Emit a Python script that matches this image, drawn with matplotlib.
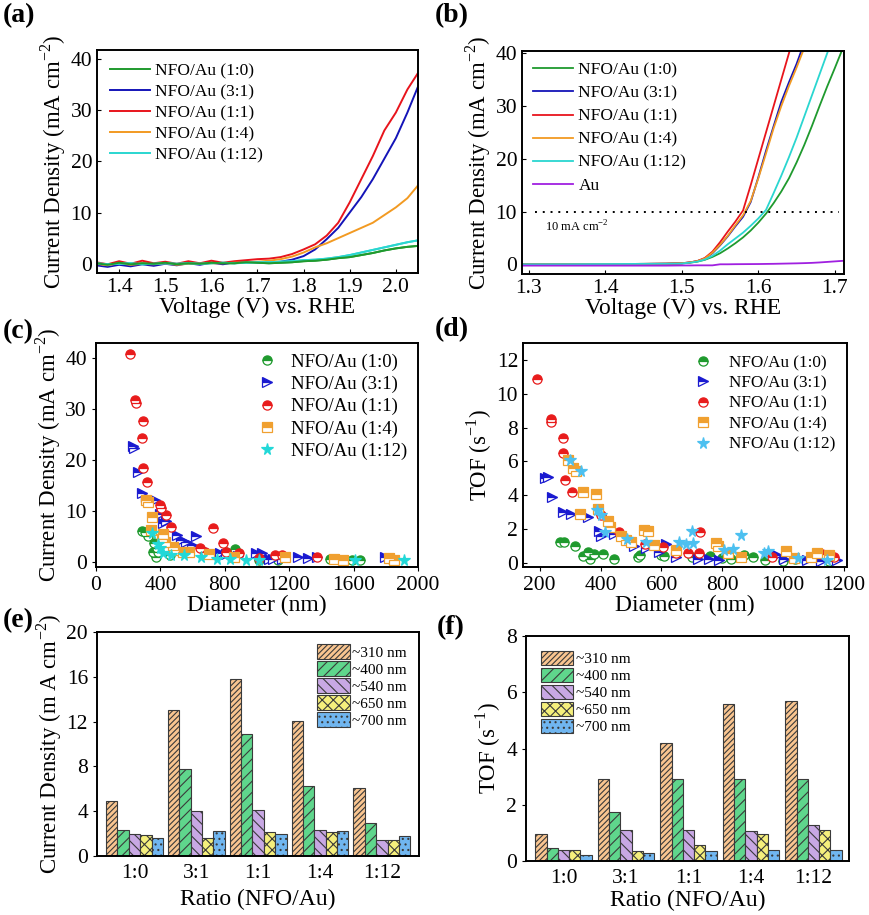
import matplotlib
matplotlib.use("Agg")
import matplotlib.pyplot as plt

plt.rcParams['font.family'] = ['Liberation Serif', 'DejaVu Serif']
plt.rcParams['mathtext.fontset'] = 'custom'
plt.rcParams['mathtext.rm'] = 'Liberation Serif'
plt.rcParams['axes.linewidth'] = 1.4
plt.rcParams['hatch.linewidth'] = 0.8

LABELS = ["NFO/Au (1:0)", "NFO/Au (3:1)", "NFO/Au (1:1)", "NFO/Au (1:4)", "NFO/Au (1:12)"]
LINE_COLORS = ["#1f9a2e", "#1414b8", "#e8141c", "#f29a22", "#2ad6d0"]

# (a) LSV curves, 1:0 / 3:1 / 1:1 / 1:4 / 1:12
V_A = [1.350, 1.375, 1.400, 1.425, 1.450, 1.475, 1.500, 1.525, 1.550, 1.575,
       1.600, 1.625, 1.650, 1.675, 1.700, 1.725, 1.750, 1.775, 1.800, 1.825,
       1.850, 1.875, 1.900, 1.925, 1.950, 1.975, 2.000, 2.025, 2.050]
J_A_10 = [0.1, -0.2, 0.2, -0.1, 0.1, 0.0, 0.2, -0.1, 0.1, 0.0, 0.2, 0.1, 0.1, 0.3, 0.2,
          0.1, 0.2, 0.3, 0.5, 0.6, 0.8, 1.1, 1.3, 1.7, 2.1, 2.6, 3.0, 3.3, 3.5]
J_A_31 = [-0.3, -0.6, -0.2, -0.5, -0.1, -0.4, 0.0, -0.3, 0.1, -0.2, 0.2, -0.1, 0.3, 0.4, 0.3,
          0.2, 0.4, 0.8, 1.5, 2.8, 4.8, 7.0, 10.0, 13.0, 16.5, 20.5, 24.5, 29.5, 35.0]
J_A_11 = [0.3, -0.1, 0.5, 0.0, 0.6, 0.1, 0.4, 0.0, 0.5, 0.1, 0.6, 0.2, 0.5, 0.7, 0.9,
          1.0, 1.3, 1.9, 2.8, 3.8, 5.5, 8.0, 12.0, 16.5, 21.0, 26.0, 29.5, 34.0, 37.5]
J_A_14 = [0.0, -0.3, 0.1, -0.2, 0.0, -0.1, 0.1, -0.2, 0.0, 0.0, 0.1, 0.1, 0.2, 0.3, 0.4,
          0.6, 0.9, 1.4, 2.2, 3.2, 4.0, 5.0, 6.0, 7.0, 8.0, 9.5, 11.0, 12.8, 15.5]
J_A_112 = [0.1, -0.1, 0.0, 0.1, -0.1, 0.0, 0.1, 0.0, 0.1, 0.0, 0.1, 0.2, 0.1, 0.2, 0.3,
           0.3, 0.4, 0.5, 0.7, 0.8, 1.0, 1.3, 1.7, 2.2, 2.7, 3.2, 3.7, 4.2, 4.6]

# (b) iR-corrected LSV curves, plus bare Au
V_B = [1.29, 1.35, 1.40, 1.45, 1.48, 1.50, 1.51, 1.52, 1.53, 1.54, 1.55, 1.56, 1.57, 1.58,
       1.59, 1.60, 1.61, 1.62, 1.63, 1.64, 1.65, 1.66, 1.67, 1.68, 1.69, 1.70, 1.71]
J_B_10 = [0.0, 0.02, 0.05, 0.08, 0.1, 0.15, 0.3, 0.5, 0.85, 1.4, 2.1, 3.0, 4.0, 5.1,
          6.4, 7.9, 9.6, 11.6, 13.8, 16.3, 19.3, 22.6, 26.2, 30.0, 33.7, 37.2, 40.8]
J_B_31 = [0.0, 0.02, 0.05, 0.08, 0.12, 0.2, 0.35, 0.6, 1.1, 2.1, 3.6, 5.3, 7.2, 9.0,
          11.8, 16.5, 21.5, 26.2, 30.8, 34.5, 38.0, 42.0, 46.0, 50.0, 54.0, 58.0, 62.0]
J_B_11 = [0.0, 0.02, 0.05, 0.08, 0.12, 0.2, 0.35, 0.6, 1.2, 2.4, 4.2, 6.2, 8.1, 10.2,
          15.0, 20.0, 25.0, 30.0, 35.0, 40.0, 45.0, 50.0, 55.0, 60.0, 65.0, 70.0, 75.0]
J_B_14 = [0.0, 0.02, 0.05, 0.08, 0.12, 0.2, 0.35, 0.6, 1.1, 2.2, 3.7, 5.4, 7.4, 9.3,
          12.0, 16.3, 21.0, 25.8, 30.0, 33.8, 37.3, 41.0, 45.0, 49.0, 53.0, 57.0, 61.0]
J_B_112 = [0.0, 0.02, 0.05, 0.08, 0.1, 0.15, 0.3, 0.5, 0.9, 1.6, 2.6, 3.8, 4.9, 6.0,
           7.3, 8.7, 10.3, 13.5, 16.8, 20.3, 24.0, 28.0, 32.0, 36.0, 40.0, 44.0, 48.0]
J_B_AU = [-0.25, -0.25, -0.25, -0.25, -0.25, -0.22, -0.22, -0.2, -0.2, -0.2, 0.0, 0.0, 0.02, 0.03,
          0.04, 0.05, 0.07, 0.09, 0.12, 0.15, 0.18, 0.22, 0.27, 0.35, 0.45, 0.55, 0.65]

# (c) current density vs diameter
C_X_10 = [285, 305, 325, 362, 376, 356, 372, 386, 457, 527, 568, 810, 861, 1012, 1133, 1456, 1588, 1638, 1840]
C_Y_10 = [6.1, 5.9, 5.0, 3.7, 2.8, 2.0, 1.0, 2.0, 1.4, 2.0, 2.0, 2.0, 2.5, 0.4, 0.4, 0.6, 0.3, 0.4, 0.3]
C_X_31 = [228, 235, 259, 285, 311, 366, 396, 416, 437, 503, 527, 558, 624, 598, 679, 770, 810, 880,
          992, 1032, 1073, 1100, 1154, 1254, 1315, 1375, 1795]
C_Y_31 = [22.8, 22.3, 17.7, 13.5, 12.8, 12.2, 9.5, 7.7, 8.0, 5.3, 4.3, 4.0, 5.0, 3.4, 2.4, 1.8, 1.5, 1.2,
          1.8, 1.8, 0.5, 0.6, 0.5, 1.0, 0.7, 0.9, 1.0]
C_X_11 = [210, 245, 249, 289, 285, 295, 317, 400, 406, 437, 466, 729, 790, 649, 679, 568, 890, 1012,
          1113, 1153, 1375, 810]
C_Y_11 = [40.9, 31.9, 31.3, 27.7, 24.4, 18.5, 15.7, 11.2, 10.5, 9.3, 6.9, 6.6, 3.7, 2.7, 2.0, 2.0, 1.7, 0.7,
          1.4, 1.4, 0.9, 2.0]
C_X_14 = [309, 325, 350, 342, 416, 410, 426, 477, 487, 538, 578, 700, 860, 1173, 1477, 1537, 1820, 1850]
C_Y_14 = [12.2, 11.8, 8.9, 6.3, 5.5, 4.5, 4.0, 3.0, 2.4, 2.0, 2.0, 1.5, 0.9, 0.9, 0.5, 0.4, 0.8, 0.4]
C_X_112 = [346, 386, 396, 416, 467, 548, 650, 750, 830, 931, 1012, 1608, 1911]
C_Y_112 = [5.6, 3.5, 2.7, 1.8, 1.4, 1.4, 1.0, 0.5, 0.5, 0.4, 0.4, 0.4, 0.4]

# (d) TOF vs diameter
D_X_10 = [268, 280, 315, 342, 358, 364, 380, 408, 444, 522, 530, 600, 610, 700, 760, 800, 830, 870,
          900, 940, 1000, 1040, 1150]
D_Y_10 = [1.2, 1.2, 1.0, 0.4, 0.65, 0.2, 0.5, 0.5, 0.25, 0.35, 0.45, 0.45, 0.4, 0.35, 0.4, 0.3, 0.25, 0.45,
          0.35, 0.15, 0.1, 0.2, 0.1]
D_X_31 = [218, 226, 240, 276, 302, 358, 395, 402, 443, 509, 548, 615, 593, 648, 719, 757, 790, 981,
          1003, 1080, 1124, 1178]
D_Y_31 = [5.0, 5.05, 3.9, 3.0, 2.9, 2.7, 1.9, 1.6, 1.7, 1.0, 0.85, 1.1, 0.65, 0.35, 0.2, 0.25, 0.15, 0.45,
          0.25, 0.15, 0.1, 0.15]
D_X_11 = [191, 236, 236, 277, 277, 284, 306, 402, 424, 460, 545, 604, 648, 686, 725, 728, 965, 1129, 1167]
D_Y_11 = [10.9, 8.5, 8.3, 7.4, 6.5, 4.9, 4.2, 2.85, 2.4, 1.8, 1.1, 0.95, 0.6, 0.55, 0.6, 1.8, 0.35, 0.5, 0.35]
D_X_14 = [293, 309, 320, 342, 384, 331, 391, 424, 430, 468, 484, 500, 544, 555, 577, 648, 779, 785,
          818, 861, 1009, 1036, 1091, 1113, 1150]
D_Y_14 = [6.05, 5.6, 5.4, 4.2, 4.05, 2.9, 3.2, 2.5, 2.1, 1.6, 1.35, 1.25, 1.95, 1.85, 1.05, 0.75, 1.15, 1.0,
          0.55, 0.35, 0.7, 0.3, 0.35, 0.55, 0.45]
D_X_112 = [300, 337, 388, 402, 416, 486, 550, 659, 681, 700, 703, 806, 834, 861, 938, 949, 1050, 1145]
D_Y_112 = [6.05, 5.45, 3.1, 2.8, 1.8, 1.4, 1.25, 1.2, 1.1, 1.85, 1.15, 0.75, 0.8, 1.65, 0.6, 0.7, 0.3, 0.15]

# (e), (f) bars per ratio, one list per diameter
RATIOS = ["1:0", "3:1", "1:1", "1:4", "1:12"]
SIZES = ["~310 nm", "~400 nm", "~540 nm", "~650 nm", "~700 nm"]
E_310 = [4.93, 13.07, 15.78, 12.07, 6.09]
E_400 = [2.3, 7.73, 10.88, 6.27, 2.97]
E_540 = [2.0, 4.04, 4.1, 2.3, 1.43]
E_650 = [1.87, 1.63, 2.1, 2.17, 1.43]
E_700 = [1.57, 2.23, 2.0, 2.23, 1.78]
F_310 = [0.97, 2.9, 4.18, 5.6, 5.69]
F_400 = [0.46, 1.73, 2.9, 2.93, 2.92]
F_540 = [0.40, 1.09, 1.09, 1.06, 1.27]
F_650 = [0.38, 0.34, 0.56, 0.97, 1.09]
F_700 = [0.23, 0.30, 0.36, 0.38, 0.38]

BAR_COLORS = ["#f9c590", "#5fd68c", "#c8a8e4", "#f5ef7c", "#70b6f0"]
HATCHES = ["//////", "///", "\\\\\\", "xxx", "..."]

TICK_FS = 15.5
LAB_FS = 16.5

W, H = 870, 915
fig = plt.figure(figsize=(W / 100, H / 100), dpi=100)


def add_ax(l, t, r, b):
    return fig.add_axes([l / W, 1 - b / H, (r - l) / W, (b - t) / H])


def panel_label(x, y, s):
    fig.text(x / W, 1 - y / H, s, fontsize=20, fontweight='bold', va='top', ha='left')


JLABEL = "Current Density (mA cm$^{\\mathregular{-2}}$)"

# ---- (a)
ax = add_ax(97, 50, 418, 273)
for ys, c, lab in zip([J_A_10, J_A_31, J_A_11, J_A_14, J_A_112], LINE_COLORS, LABELS):
    ax.plot(V_A, ys, color=c, lw=1.4, label=lab)
ax.plot(V_A, J_A_112, color=LINE_COLORS[4], lw=1.4)
ax.plot(V_A, J_A_10, color=LINE_COLORS[0], lw=1.4)
ax.set_xlim(1.352, 2.048)
ax.set_ylim(-1.8, 41.7)
ax.set_xticks([1.4, 1.5, 1.6, 1.7, 1.8, 1.9, 2.0])
ax.set_yticks([0, 10, 20, 30, 40])
ax.set_xlabel("Voltage (V) vs. RHE", fontsize=LAB_FS + 0.5, labelpad=0)
ax.set_ylabel(JLABEL, fontsize=LAB_FS, labelpad=2)
ax.tick_params(direction='in', labelsize=TICK_FS, length=3)
ax.legend(loc='upper left', frameon=False, fontsize=12.5, handlelength=2.3,
          handletextpad=0.3, labelspacing=0.28, borderaxespad=0.35)
panel_label(3, 3, "(a)")

# ---- (b)
ax = add_ax(522, 51, 844, 274)
for ys, c, lab in zip([J_B_10, J_B_31, J_B_11, J_B_14, J_B_112], LINE_COLORS, LABELS):
    ax.plot(V_B, ys, color=c, lw=1.3, label=lab)
ax.plot(V_B, J_B_AU, color="#a020e0", lw=1.3, label="Au")
ax.hlines(10, 1.308, 1.705, colors='black', linestyles=(0, (1, 3)), lw=1.4)
ax.text(1.321, 7.1, "10 mA cm$^{\\mathregular{-2}}$", fontsize=9, va='center')
ax.set_xlim(1.291, 1.712)
ax.set_ylim(-1.84, 40.44)
ax.set_xticks([1.3, 1.4, 1.5, 1.6, 1.7])
ax.set_yticks([0, 10, 20, 30, 40])
ax.set_xlabel("Voltage (V) vs. RHE", fontsize=LAB_FS + 0.5, labelpad=0)
ax.set_ylabel(JLABEL, fontsize=LAB_FS, labelpad=2)
ax.tick_params(direction='in', labelsize=TICK_FS, length=3)
ax.legend(loc='upper left', frameon=False, fontsize=12.5, handlelength=2.3,
          handletextpad=0.3, labelspacing=0.4, borderaxespad=0.25)
panel_label(435, 3, "(b)")

MARKERS = ["o", ">", "o", "s", "*"]
SC_COLORS_C = ["#1f9a2e", "#1a1ad0", "#e81c1c", "#f0a030", "#22d8d8"]
SC_COLORS_D = ["#1f9a2e", "#1a1ad0", "#e81c1c", "#f0a030", "#4cc0f0"]


def scatter_series(ax, xs_list, ys_list, colors):
    for xs, ys, m, c, lab in zip(xs_list, ys_list, MARKERS, colors, LABELS):
        fs = 'full' if m == '*' else 'top'
        ms = 8.5 if m == '*' else 6.6
        ax.plot(xs, ys, linestyle='none', marker=m, ms=ms, color=c, mec=c, mew=0.9,
                fillstyle=fs, markerfacecoloralt='white', label=lab)


# ---- (c)
ax = add_ax(96, 343, 418, 567)
scatter_series(ax, [C_X_10, C_X_31, C_X_11, C_X_14, C_X_112],
               [C_Y_10, C_Y_31, C_Y_11, C_Y_14, C_Y_112], SC_COLORS_C)
ax.set_xlim(15, 1970)
ax.set_ylim(-1, 43)
ax.set_xticks([0, 400, 800, 1200, 1600, 2000])
ax.set_yticks([0, 10, 20, 30, 40])
ax.set_xlabel("Diameter (nm)", fontsize=LAB_FS + 0.5, labelpad=0)
ax.set_ylabel(JLABEL, fontsize=LAB_FS, labelpad=2)
ax.tick_params(direction='out', labelsize=TICK_FS, length=3)
ax.legend(loc='upper right', frameon=False, fontsize=13.5, handlelength=1.0,
          handletextpad=0.8, labelspacing=0.27, borderaxespad=0.15, numpoints=1)
panel_label(3, 319, "(c)")

# ---- (d)
ax = add_ax(523, 343, 847, 567)
scatter_series(ax, [D_X_10, D_X_31, D_X_11, D_X_14, D_X_112],
               [D_Y_10, D_Y_31, D_Y_11, D_Y_14, D_Y_112], SC_COLORS_D)
ax.set_xlim(145, 1210)
ax.set_ylim(-0.25, 13)
ax.set_xticks([200, 400, 600, 800, 1000, 1200])
ax.set_yticks([0, 2, 4, 6, 8, 10, 12])
ax.set_xlabel("Diameter (nm)", fontsize=LAB_FS + 0.5, labelpad=0)
ax.set_ylabel("TOF (s$^{\\mathregular{-1}}$)", fontsize=LAB_FS, labelpad=2)
ax.tick_params(axis='x', direction='out', labelsize=TICK_FS, length=3)
ax.tick_params(axis='y', direction='in', labelsize=TICK_FS, length=3)
ax.legend(loc='upper right', frameon=False, fontsize=12.3, handlelength=1.0,
          handletextpad=1.0, labelspacing=0.26, borderaxespad=0.3, numpoints=1)
panel_label(435, 317, "(d)")


def bars(ax, series, width):
    pos = list(range(len(RATIOS)))
    for i, (vals, c, h, lab) in enumerate(zip(series, BAR_COLORS, HATCHES, SIZES)):
        off = (i - 2) * width
        ax.bar([p + off for p in pos], vals, width=width, color=c, edgecolor='#3a3a3a',
               hatch=h, lw=0.8, label=lab)
    ax.set_xticks(pos)
    ax.set_xticklabels(RATIOS)
    ax.tick_params(axis='x', length=0, labelsize=TICK_FS, pad=6)
    ax.tick_params(axis='y', direction='out', labelsize=TICK_FS, length=3)


# ---- (e)
ax = add_ax(97, 632, 419, 856)
bars(ax, [E_310, E_400, E_540, E_650, E_700], 0.184)
ax.set_xlim(-0.606, 4.6)
ax.set_ylim(0, 20)
ax.set_yticks([0, 4, 8, 12, 16, 20])
ax.set_xlabel("Ratio (NFO/Au)", fontsize=LAB_FS + 0.5, labelpad=4)
ax.set_ylabel("Current Density (m A cm$^{\\mathregular{-2}}$)", fontsize=LAB_FS, labelpad=2)
ax.legend(loc='upper right', frameon=False, fontsize=11, handlelength=2.15, handleheight=1.1,
          handletextpad=0.15, labelspacing=0.1, borderaxespad=0.4)
panel_label(3, 608, "(e)")

# ---- (f)
ax = add_ax(526, 636, 849, 861)
bars(ax, [F_310, F_400, F_540, F_650, F_700], 0.18)
ax.set_xlim(-0.6, 4.57)
ax.set_ylim(0, 8)
ax.set_yticks([0, 2, 4, 6, 8])
ax.set_xlabel("Ratio (NFO/Au)", fontsize=LAB_FS + 0.5, labelpad=1)
ax.set_ylabel("TOF (s$^{\\mathregular{-1}}$)", fontsize=LAB_FS, labelpad=2)
ax.legend(loc='upper left', frameon=False, fontsize=11, handlelength=2.15, handleheight=1.1,
          handletextpad=0.15, labelspacing=0.1, borderaxespad=0.55)
panel_label(437, 615, "(f)")

fig.savefig("out.png", dpi=100)
